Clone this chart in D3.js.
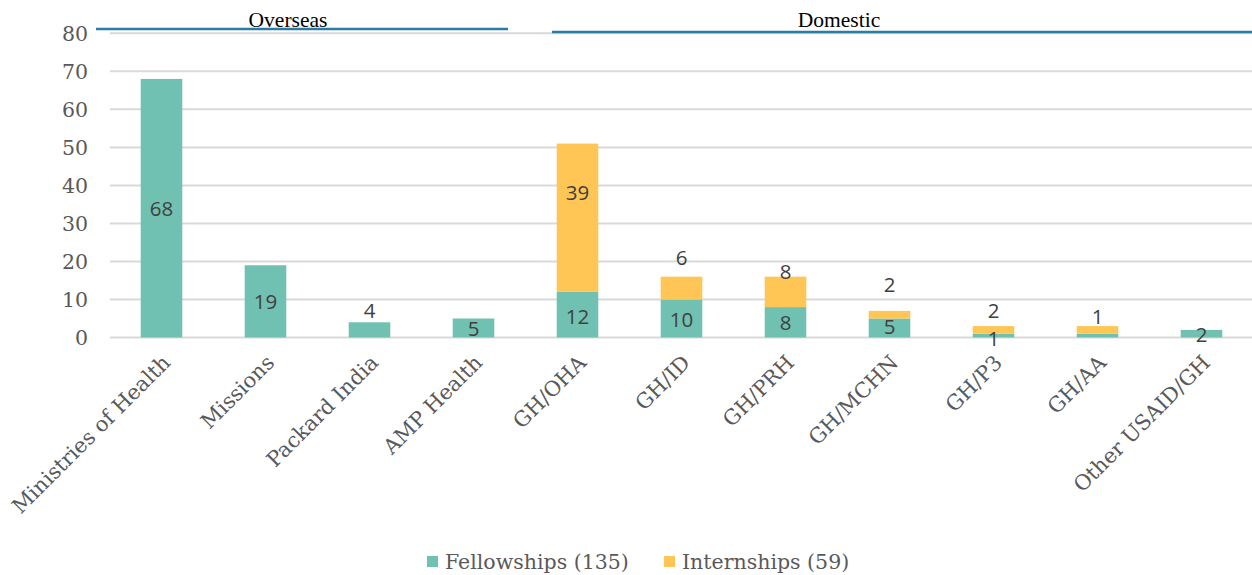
<!DOCTYPE html>
<html>
<head>
<meta charset="utf-8">
<script src="https://cdn.jsdelivr.net/npm/d3@7/dist/d3.min.js"></script>
<style>
  html, body { margin: 0; padding: 0; background: #ffffff; }
  svg { display: block; }
</style>
</head>
<body>
<svg id="chart" width="1252" height="575"></svg>
<script>
// Placement counts by host organisation
const categories = ["Ministries of Health", "Missions", "Packard India", "AMP Health", "GH/OHA",
  "GH/ID", "GH/PRH", "GH/MCHN", "GH/P3", "GH/AA", "Other USAID/GH"];
const fellowships = [68, 19, 4, 5, 12, 10, 8, 5, 1, 1, 2];
const internships = [0, 0, 0, 0, 39, 6, 8, 2, 2, 2, 0];
// which stacked segments carry a value label
const fellowLabelShown = [true, true, true, true, true, true, true, true, true, true, true];
const internLabelShown = [false, false, false, false, true, true, true, true, true, false, false];
const yTicks = [0, 10, 20, 30, 40, 50, 60, 70, 80];
const seriesNames = ["Fellowships (135)", "Internships (59)"];
const groupNames = ["Overseas", "Domestic"];

// layout: vertical anchor of each value label, in axis units
const fellowLabelAt = [34, 9.4, 7.0, 2.3, 5.6, 4.7, 3.8, 2.9, -0.3, 5.6, 0.7];
const internLabelAt = [0, 0, 0, 0, 38.2, 20.9, 17.2, 13.8, 7.0, 0, 0];

const W = 1252, H = 575;
const colors = { fellow: "#71c1b3", intern: "#ffc656" };
const svg = d3.select("#chart");

const x = d3.scaleBand().domain(categories).range([109.5, 1253.5])
  .paddingInner(0.6).paddingOuter(0.3);
const y = d3.scaleLinear().domain([0, 80]).range([337.5, 33.3]);

// gridlines
svg.append("g").selectAll("line").data(yTicks).join("line")
  .attr("x1", 110).attr("x2", W)
  .attr("y1", d => y(d)).attr("y2", d => y(d))
  .attr("stroke", "#d9d9d9").attr("stroke-width", 2);

// y axis labels
const yAxis = svg.append("g").attr("transform", "translate(88,0)")
  .call(d3.axisLeft(y).tickValues(yTicks).tickSize(0).tickPadding(0));
yAxis.select(".domain").remove();
yAxis.selectAll("text")
  .attr("font-family", "'DejaVu Serif', Georgia, serif")
  .attr("font-size", 20.5).attr("fill", "#595959").attr("dy", "0.36em");

// stacked bars
const rows = categories.map((c, i) => ({ c, f: fellowships[i], n: internships[i], i }));
svg.append("g").selectAll("rect").data(rows).join("rect")
  .attr("x", d => x(d.c)).attr("width", x.bandwidth())
  .attr("y", d => y(d.f)).attr("height", d => y(0) - y(d.f))
  .attr("fill", colors.fellow);
svg.append("g").selectAll("rect").data(rows.filter(d => d.n > 0)).join("rect")
  .attr("x", d => x(d.c)).attr("width", x.bandwidth())
  .attr("y", d => y(d.f + d.n)).attr("height", d => y(d.f) - y(d.f + d.n))
  .attr("fill", colors.intern);

// value labels
const lbl = svg.append("g")
  .attr("font-family", "'Open Sans', 'Noto Sans', sans-serif")
  .attr("font-size", 20.5).attr("fill", "#404040").attr("text-anchor", "middle");
lbl.selectAll("text.f").data(rows.filter(d => fellowLabelShown[d.i])).join("text")
  .attr("class", "f")
  .attr("x", d => x(d.c) + x.bandwidth() / 2)
  .attr("y", d => y(fellowLabelAt[d.i])).attr("dy", "0.36em")
  .text(d => d.f);
lbl.selectAll("text.n").data(rows.filter(d => internLabelShown[d.i])).join("text")
  .attr("class", "n")
  .attr("x", d => x(d.c) + x.bandwidth() / 2)
  .attr("y", d => y(internLabelAt[d.i])).attr("dy", "0.36em")
  .text(d => d.n);

// category labels, rotated
svg.append("g").selectAll("text").data(categories).join("text")
  .attr("transform", d => `translate(${x(d) + x.bandwidth() / 2 + 10},${364}) rotate(-45)`)
  .attr("text-anchor", "end")
  .attr("font-family", "'DejaVu Serif', Georgia, serif")
  .attr("font-size", 21).attr("fill", "#595959")
  .text(d => d);

// group headers
const hdr = svg.append("g");
const groupSpan = [
  { name: groupNames[0], x1: 96, x2: 508, y: 29, tx: 288 },
  { name: groupNames[1], x1: 552, x2: W, y: 32, tx: 839 }
];
hdr.selectAll("line").data(groupSpan).join("line")
  .attr("x1", d => d.x1).attr("x2", d => d.x2)
  .attr("y1", d => d.y).attr("y2", d => d.y)
  .attr("stroke", "#2b7ca3").attr("stroke-width", 2.5);
hdr.selectAll("text").data(groupSpan).join("text")
  .attr("x", d => d.tx)
  .attr("y", 27)
  .attr("text-anchor", "middle")
  .attr("font-family", "'Liberation Serif', 'Times New Roman', serif")
  .attr("font-size", 21.5).attr("fill", "#000000")
  .text(d => d.name);

// legend
const legend = svg.append("g");
const legendItems = [
  { name: seriesNames[0], color: colors.fellow, x: 427 },
  { name: seriesNames[1], color: colors.intern, x: 664 }
];
legend.selectAll("rect").data(legendItems).join("rect")
  .attr("x", d => d.x).attr("y", 556).attr("width", 11).attr("height", 11)
  .attr("fill", d => d.color);
legend.selectAll("text").data(legendItems).join("text")
  .attr("x", d => d.x + 18).attr("y", 569)
  .attr("font-family", "'DejaVu Serif', Georgia, serif")
  .attr("font-size", 20.5).attr("fill", "#595959")
  .text(d => d.name);
</script>
</body>
</html>
